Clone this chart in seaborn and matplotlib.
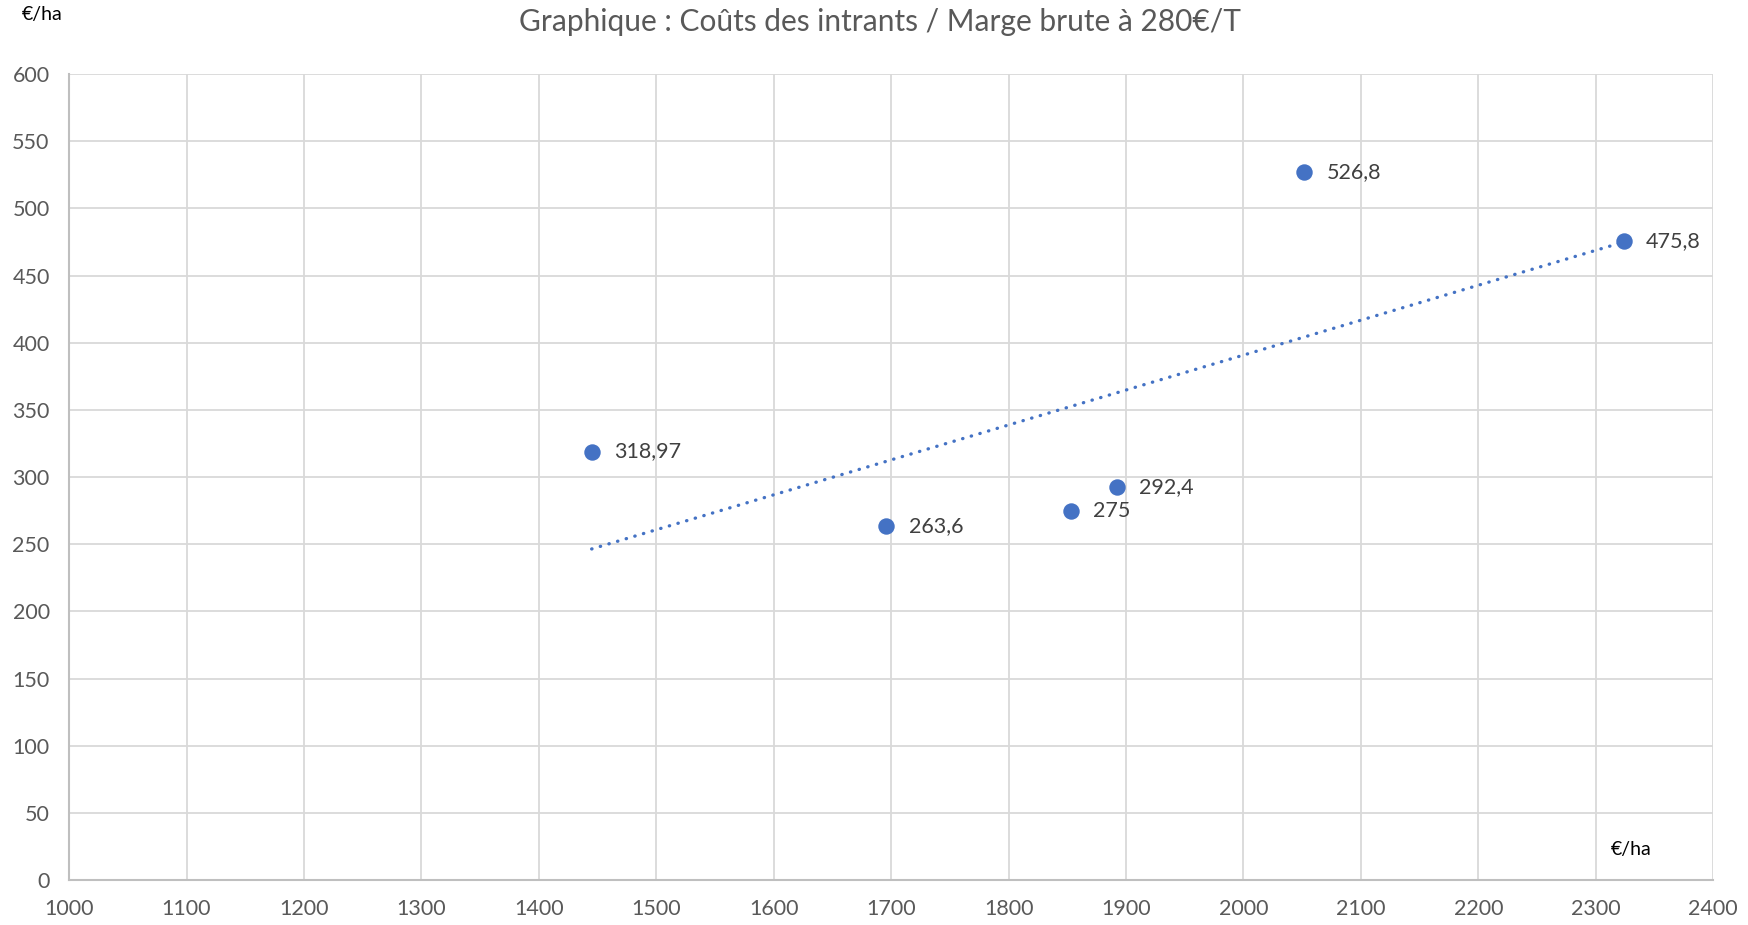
import numpy as np
import pandas as pd
import matplotlib
matplotlib.use('Agg')
import matplotlib.pyplot as plt
import seaborn as sns

# Données
couts_intrants = [1445, 1696, 1853, 1892, 2052, 2324]
marge_brute = [318.97, 263.6, 275, 292.4, 526.8, 475.8]
etiquettes = ['318,97', '263,6', '275', '292,4', '526,8', '475,8']
x_ticks = list(range(1000, 2401, 100))
y_ticks = list(range(0, 601, 50))

df = pd.DataFrame({'Couts': couts_intrants, 'Marge': marge_brute})

sns.set_style('white')
plt.rcParams['font.family'] = ['Lato', 'DejaVu Sans']

bleu = '#4472C4'

fig = plt.figure(figsize=(17.49, 9.25), dpi=100)
ax = fig.add_axes([0.0395, 0.0486, 0.94, 0.8714])

# Courbe de tendance linéaire
pente, origine = np.polyfit(df['Couts'], df['Marge'], 1)
xt = np.array([df['Couts'].min(), df['Couts'].max()])
ax.plot(xt, pente * xt + origine, color=bleu, linestyle=(0, (0.1, 2.6)),
        linewidth=2.4, dash_capstyle='round', zorder=2)

sns.scatterplot(data=df, x='Couts', y='Marge', ax=ax, color=bleu, s=140,
                edgecolor=bleu, linewidth=0, zorder=3)

for x, y, lab in zip(couts_intrants, marge_brute, etiquettes):
    ax.annotate(lab, (x, y), xytext=(16, 0), textcoords='offset points',
                va='center', ha='left', fontsize=15.5, color='#404040')

ax.set_xlim(1000, 2400)
ax.set_ylim(0, 600)
ax.set_xticks(x_ticks)
ax.set_yticks(y_ticks)
ax.grid(True, color='#D9D9D9', linewidth=1.3)
ax.set_axisbelow(True)
ax.tick_params(axis='both', length=0, labelsize=15.5, labelcolor='#595959')
ax.tick_params(axis='y', pad=14)
ax.tick_params(axis='x', pad=14)
for s in ['top', 'right']:
    ax.spines[s].set_visible(False)
for s in ['left', 'bottom']:
    ax.spines[s].set_color('#BFBFBF')
    ax.spines[s].set_linewidth(1.5)
ax.set_xlabel('')
ax.set_ylabel('')

fig.text(0.503, 0.976, 'Graphique : Coûts des intrants / Marge brute à 280€/T',
         ha='center', va='center', fontsize=21.5, color='#595959')
fig.text(0.0125, 0.984, '€/ha', ha='left', va='center', fontsize=14, color='black')
fig.text(0.9325, 0.082, '€/ha', ha='center', va='center', fontsize=14, color='black')

fig.savefig('out.png', dpi=100)
